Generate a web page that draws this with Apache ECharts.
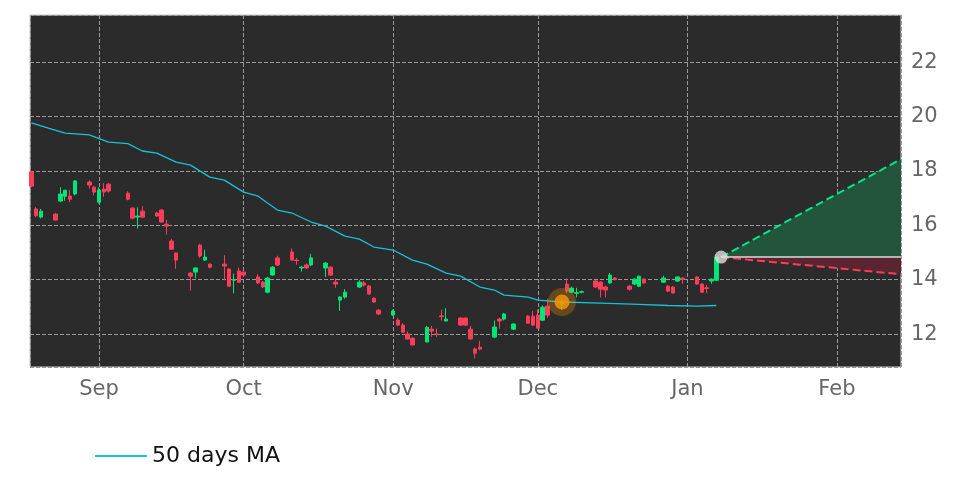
<!DOCTYPE html>
<html><head><meta charset="utf-8">
<script src="https://cdn.jsdelivr.net/npm/echarts@6/dist/echarts.min.js"></script>
<style>html,body{margin:0;background:#fff}#c{width:972px;height:486px}</style></head>
<body><div id="c"></div>
<script>
// [date, open, close, low, high]
const candles = [
['2021-08-18',17.96,17.44,17.4,18.0],['2021-08-19',16.6,16.35,16.3,16.67],['2021-08-20',16.3,16.52,16.25,16.6],
['2021-08-23',16.41,16.19,16.17,16.45],['2021-08-24',16.89,17.15,16.85,17.4],['2021-08-25',17.07,17.29,16.9,17.3],
['2021-08-26',17.07,16.96,16.85,17.3],['2021-08-27',17.15,17.63,17.1,17.65],['2021-08-30',17.59,17.48,17.35,17.65],
['2021-08-31',17.4,17.22,17.1,17.45],['2021-09-01',16.85,17.3,16.8,17.4],['2021-09-02',17.33,17.22,17.05,17.55],
['2021-09-03',17.51,17.26,17.2,17.55],['2021-09-07',17.18,16.96,16.92,17.25],['2021-09-08',16.63,16.26,16.22,16.66],
['2021-09-09',16.3,16.34,15.88,16.66],['2021-09-10',16.52,16.3,16.26,16.7],['2021-09-13',16.45,16.34,16.3,16.5],
['2021-09-14',16.56,16.12,16.1,16.6],['2021-09-15',16.04,15.97,15.65,16.2],['2021-09-16',15.42,15.12,15.1,15.5],
['2021-09-17',14.98,14.72,14.4,15.0],['2021-09-20',14.24,14.13,13.6,14.28],['2021-09-21',14.28,14.43,14.05,14.45],
['2021-09-22',15.27,14.87,14.8,15.32],['2021-09-23',14.72,14.83,14.7,15.1],['2021-09-24',14.57,14.46,14.42,14.6],
['2021-09-27',14.57,14.5,13.98,14.9],['2021-09-28',14.39,13.76,13.74,14.42],['2021-09-29',13.98,14.0,13.5,14.22],
['2021-09-30',14.32,13.91,13.88,14.45],['2021-10-01',14.28,14.17,14.1,14.3],['2021-10-04',14.1,13.88,13.85,14.2],
['2021-10-05',13.91,13.73,13.7,13.95],['2021-10-06',13.54,14.06,13.5,14.1],['2021-10-07',14.17,14.46,14.15,14.5],
['2021-10-08',14.8,14.54,14.5,14.88],['2021-10-11',15.02,14.72,14.7,15.15],['2021-10-12',14.72,14.7,14.55,14.8],
['2021-10-13',14.43,14.46,14.3,14.5],['2021-10-14',14.54,14.43,14.4,14.6],['2021-10-15',14.54,14.8,14.5,14.95],
['2021-10-18',14.43,14.61,14.1,14.65],['2021-10-19',14.46,14.17,14.15,14.5],['2021-10-20',13.91,13.84,13.7,14.05],
['2021-10-21',13.25,13.36,12.85,13.4],['2021-10-22',13.36,13.54,13.3,13.65],['2021-10-25',13.73,13.91,13.7,13.98],
['2021-10-26',13.88,13.8,13.75,13.95],['2021-10-27',13.77,13.47,13.45,13.8],['2021-10-28',13.32,13.18,13.15,13.35],
['2021-10-29',12.88,12.74,12.7,12.92],['2021-11-01',12.7,12.85,12.68,12.9],['2021-11-02',12.51,12.33,12.3,12.6],
['2021-11-03',12.33,12.07,12.04,12.4],['2021-11-04',12.0,11.82,11.8,12.1],['2021-11-05',11.85,11.6,11.58,11.88],
['2021-11-08',11.71,12.25,11.7,12.3],['2021-11-09',12.18,12.11,11.9,12.3],['2021-11-10',12.0,11.98,11.9,12.2],
['2021-11-11',12.67,12.64,12.5,12.9],['2021-11-12',12.48,12.55,12.46,12.95],['2021-11-15',12.59,12.33,12.3,12.62],
['2021-11-16',12.59,12.33,12.3,12.62],['2021-11-17',12.18,11.82,11.8,12.3],['2021-11-18',11.45,11.3,11.1,11.5],
['2021-11-19',11.52,11.45,11.4,11.75],['2021-11-22',11.89,12.26,11.85,12.5],['2021-11-23',12.55,12.48,12.2,12.6],
['2021-11-24',12.55,12.74,12.5,12.78],['2021-11-26',12.18,12.37,12.15,12.4],['2021-11-29',12.66,12.4,12.38,12.7],
['2021-11-30',12.66,12.33,12.3,12.85],['2021-12-01',12.7,12.22,12.2,12.9],['2021-12-02',12.51,12.99,12.48,13.05],
['2021-12-03',13.03,12.7,12.6,13.3],['2021-12-06',13.1,13.2,12.88,13.25],['2021-12-07',13.84,13.58,13.5,14.05],
['2021-12-08',13.54,13.69,13.5,13.75],['2021-12-09',13.5,13.52,13.35,13.7],['2021-12-10',13.54,13.56,13.5,13.6],
['2021-12-13',13.95,13.73,13.7,14.0],['2021-12-14',13.91,13.65,13.35,13.95],['2021-12-15',13.73,13.62,13.35,13.78],
['2021-12-16',13.88,14.17,13.85,14.25],['2021-12-17',14.06,14.0,13.98,14.1],['2021-12-20',13.76,13.65,13.6,13.8],
['2021-12-21',13.84,14.02,13.8,14.05],['2021-12-22',13.76,14.13,13.73,14.15],['2021-12-23',14.02,13.88,13.85,14.05],
['2021-12-27',13.91,14.06,13.88,14.15],['2021-12-28',13.76,13.58,13.55,13.8],['2021-12-29',13.73,13.51,13.5,13.76],
['2021-12-30',13.95,14.1,13.92,14.12],['2021-12-31',14.06,14.02,13.85,14.08],['2022-01-03',14.1,13.84,13.82,14.12],
['2022-01-04',13.84,13.54,13.52,13.86],['2022-01-05',13.7,13.68,13.5,13.8],['2022-01-06',13.95,14.02,13.85,14.05],
['2022-01-07',13.98,14.83,13.96,14.86]
];
const maData = [['2021-08-18',19.76],['2021-08-21',19.6],['2021-08-25',19.39],['2021-08-30',19.32],['2021-09-03',19.06],
['2021-09-07',19.0],['2021-09-10',18.73],['2021-09-13',18.65],['2021-09-17',18.32],['2021-09-20',18.21],['2021-09-24',17.77],
['2021-09-27',17.66],['2021-10-01',17.22],['2021-10-04',17.07],['2021-10-08',16.56],['2021-10-11',16.45],['2021-10-15',16.12],
['2021-10-18',15.97],['2021-10-22',15.6],['2021-10-25',15.49],['2021-10-28',15.2],['2021-11-01',15.09],['2021-11-05',14.72],
['2021-11-08',14.57],['2021-11-12',14.24],['2021-11-15',14.13],['2021-11-19',13.73],['2021-11-22',13.62],['2021-11-24',13.43],
['2021-11-29',13.36],['2021-12-01',13.25],['2021-12-06',13.18],['2021-12-14',13.14],['2021-12-22',13.09],['2021-12-28',13.05],
['2022-01-03',13.03],['2022-01-07',13.05]];
const signalPoint = ['2021-12-06',13.18];
const lastPoint = ['2022-01-08',14.83];
const projUp = [['2022-01-08',14.83],['2022-02-14 07:00',18.43]];
const projDown = [['2022-01-08',14.83],['2022-02-14 07:00',14.2]];
const projBase = [['2022-01-08',14.83],['2022-02-14 07:00',14.83]];
const legendName = '50 days MA';

const chart = echarts.init(document.getElementById('c'));
chart.setOption({
  backgroundColor:'#fff', animation:false,
  grid:{left:30,right:71,top:15,bottom:119,show:true,backgroundColor:'#2b2b2b',borderColor:'#ccc',borderWidth:1},
  legend:{left:90,top:440,itemWidth:52,itemHeight:2,textStyle:{fontSize:22,color:'#111',fontFamily:'DejaVu Sans'},
    data:[{name:legendName,icon:'rect'}]},
  xAxis:{type:'time',min:'2021-08-17 17:00',max:'2022-02-14 07:00',minInterval:28*864e5,maxInterval:31*864e5,
    axisLine:{show:false},axisTick:{show:false},
    axisLabel:{formatter:'{MMM}',fontSize:21,color:'#666',fontFamily:'DejaVu Sans',margin:12},
    splitLine:{show:true,lineStyle:{color:'#999',type:'dashed',width:1}}},
  yAxis:{type:'value',position:'right',min:10.79,max:23.73,splitNumber:6,
    axisLine:{show:false},axisTick:{show:false},
    axisLabel:{fontSize:21,color:'#666',fontFamily:'DejaVu Sans',margin:10,showMinLabel:false,showMaxLabel:false},
    splitLine:{lineStyle:{color:'#999',type:'dashed',width:1}}},
  series:[
    {type:'line',data:projUp,symbol:'none',lineStyle:{color:'#00e68a',type:'dashed',width:2},
      areaStyle:{origin:14.83,color:'#22553c',opacity:1},z:2},
    {type:'line',data:projDown,symbol:'none',lineStyle:{color:'#ff3d5a',type:'dashed',width:2},
      areaStyle:{origin:14.83,color:'#5a2530',opacity:1},z:2},
    {type:'line',data:projBase,symbol:'none',lineStyle:{color:'#ddd',width:1.5},z:3},
    {type:'candlestick',data:candles,barWidth:4,
      itemStyle:{color:'#00e676',color0:'#ff3d5a',borderColor:'#00e676',borderColor0:'#ff3d5a',borderWidth:1},z:4},
    {name:legendName,type:'line',data:maData,symbol:'none',smooth:false,lineStyle:{color:'#17c3d6',width:1.3},itemStyle:{color:'#17c3d6'},z:5},
    {type:'scatter',data:[signalPoint],symbolSize:28,itemStyle:{color:'rgba(255,152,0,0.35)'},z:6},
    {type:'scatter',data:[signalPoint],symbolSize:15,itemStyle:{color:'#ff9800'},z:7},
    {type:'scatter',data:[lastPoint],symbolSize:13,itemStyle:{color:'#ddd'},z:7}
  ]
});
</script></body></html>
